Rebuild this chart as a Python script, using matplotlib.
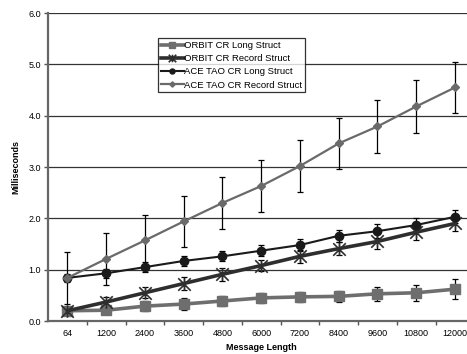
import matplotlib.pyplot as plt
from matplotlib.path import Path

plt.rcParams['font.family'] = ['Liberation Sans', 'DejaVu Sans']

msg_lengths = ['64', '1200', '2400', '3600', '4800', '6000', '7200', '8400', '9600', '10800', '12000']

orbit_long = [0.20, 0.21, 0.29, 0.33, 0.39, 0.45, 0.47, 0.48, 0.53, 0.55, 0.62]
orbit_long_err = [0.04, 0.05, 0.10, 0.11, 0.10, 0.09, 0.09, 0.10, 0.14, 0.16, 0.19]

orbit_record = [0.20, 0.37, 0.55, 0.73, 0.91, 1.08, 1.26, 1.41, 1.55, 1.73, 1.90]
orbit_record_err = [0.04, 0.10, 0.11, 0.12, 0.13, 0.10, 0.13, 0.13, 0.15, 0.16, 0.15]

ace_long = [0.84, 0.93, 1.05, 1.17, 1.26, 1.37, 1.48, 1.66, 1.75, 1.87, 2.03]
ace_long_err = [0.08, 0.09, 0.10, 0.10, 0.10, 0.11, 0.12, 0.12, 0.14, 0.13, 0.13]

ace_record = [0.84, 1.21, 1.57, 1.94, 2.30, 2.63, 3.02, 3.46, 3.79, 4.18, 4.55]
ace_record_err = [0.50, 0.50, 0.50, 0.50, 0.50, 0.50, 0.50, 0.50, 0.51, 0.51, 0.50]

x = list(range(len(msg_lengths)))

# excel style star: an X with a vertical stroke through it
star = Path([(-1, -1), (1, 1), (-1, 1), (1, -1), (0, -1), (0, 1)],
            [Path.MOVETO, Path.LINETO, Path.MOVETO, Path.LINETO, Path.MOVETO, Path.LINETO])

fig = plt.figure(figsize=(4.67, 3.54), dpi=100)
ax = fig.add_axes([0.1028, 0.0932, 0.913, 0.870])

for yv in [1, 2, 3, 4, 5, 6]:
    ax.axhline(yv, color='#333333', lw=0.9, zorder=0)

series = [
    (orbit_long, orbit_long_err, 'ORBIT CR Long Struct', '#6e6e6e', 's', 7, 2.6, 1),
    (orbit_record, orbit_record_err, 'ORBIT CR Record Struct', '#2e2e2e', star, 9, 2.6, 1.2),
    (ace_long, ace_long_err, 'ACE TAO CR Long Struct', '#1a1a1a', 'o', 6, 1.5, 1),
    (ace_record, ace_record_err, 'ACE TAO CR Record Struct', '#6a6a6a', 'D', 4.5, 1.6, 1),
]
for vals, errs, label, color, marker, ms, lw, mew in series:
    ax.errorbar(x, vals, yerr=errs, fmt='none', ecolor='black', elinewidth=0.9,
                capsize=2.5, capthick=0.9, zorder=2)
    ax.plot(x, vals, color=color, marker=marker, markersize=ms, lw=lw,
            markeredgewidth=mew, markeredgecolor=color, label=label, zorder=3)

ax.set_xlim(-0.5, len(msg_lengths) - 0.5)
ax.set_ylim(0, 6)
ax.set_xticks(x)
ax.set_xticklabels(msg_lengths, fontsize=6.5)
ax.set_xticks([i + 0.5 for i in x[:-1]], minor=True)
ax.tick_params(axis='x', which='major', length=0, pad=6)
ax.tick_params(axis='x', which='minor', length=3, width=1, color='#555555')
ax.set_yticks([0, 1, 2, 3, 4, 5, 6])
ax.set_yticklabels(['0.0', '1.0', '2.0', '3.0', '4.0', '5.0', '6.0'], fontsize=6.5)
ax.tick_params(axis='y', length=3, width=1, color='#555555', pad=2)

for side in ['top', 'right']:
    ax.spines[side].set_visible(False)
for side in ['left', 'bottom']:
    ax.spines[side].set_color('#666666')
    ax.spines[side].set_linewidth(1.6)

ax.set_xlabel('Message Length', fontsize=6.5, fontweight='bold', labelpad=3)
ax.set_ylabel('Milliseconds', fontsize=6.5, fontweight='bold', labelpad=6)

leg = ax.legend(loc='upper left', bbox_to_anchor=(0.258, 0.919), fontsize=6.8,
                frameon=True, fancybox=False, edgecolor='black', borderpad=0.3,
                labelspacing=0.45, handlelength=2.4, handletextpad=0.1,
                borderaxespad=0, markerscale=0.6)
leg.get_frame().set_linewidth(0.9)

fig.savefig('out.png', dpi=100)
